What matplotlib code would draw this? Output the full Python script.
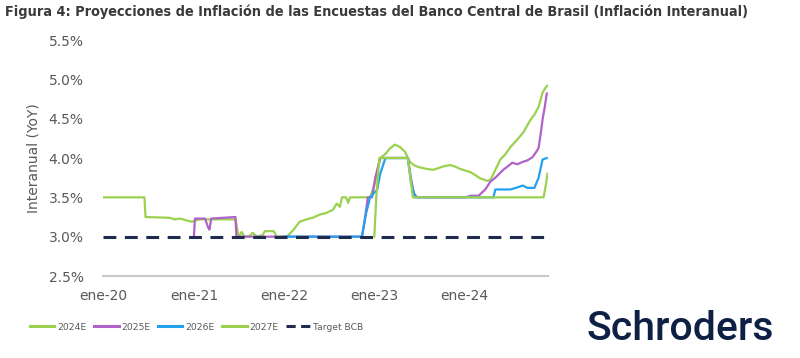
import matplotlib
matplotlib.use("Agg")
import matplotlib.pyplot as plt
import pandas as pd

# ---------------- data ----------------
title = "Figura 4: Proyecciones de Inflación de las Encuestas del Banco Central de Brasil (Inflación Interanual)"
y_label = "Interanual (YoY)"
y_ticks = [2.5, 3.0, 3.5, 4.0, 4.5, 5.0, 5.5]
x_tick_dates = ["2020-01-01", "2021-01-01", "2022-01-01", "2023-01-01", "2024-01-01"]
x_tick_labels = ["ene-20", "ene-21", "ene-22", "ene-23", "ene-24"]

dates_2024 = ["2020-01-01", "2020-06-15", "2020-06-19", "2020-09-25", "2020-10-15", "2020-11-05",
              "2020-11-29", "2020-12-23", "2021-01-25", "2021-04-15", "2021-06-18", "2021-07-01",
              "2021-07-13", "2021-07-25", "2021-08-15", "2021-08-27", "2021-09-12", "2021-10-06",
              "2021-10-15", "2021-11-20", "2021-12-02", "2022-01-12", "2022-02-06", "2022-03-05",
              "2022-04-02", "2022-04-27", "2022-05-25", "2022-06-19", "2022-07-17", "2022-08-02",
              "2022-08-15", "2022-08-23", "2022-09-09", "2022-09-17", "2022-09-25", "2022-12-15",
              "2023-01-01", "2023-01-13", "2023-01-25", "2023-02-15", "2023-03-05", "2023-03-25",
              "2023-04-15", "2023-05-05", "2023-05-25", "2023-06-15", "2023-07-05", "2023-08-03",
              "2023-08-27", "2023-09-25", "2023-10-15", "2023-11-05", "2023-11-25", "2023-12-15",
              "2024-01-05", "2024-01-25", "2024-02-15", "2024-03-05", "2024-04-02", "2024-04-15",
              "2024-05-05", "2024-05-25", "2024-06-15", "2024-07-05", "2024-07-29", "2024-08-27",
              "2024-09-25", "2024-10-10", "2024-10-27", "2024-11-12", "2024-11-25", "2024-12-02"]
vals_2024 = [3.50, 3.50, 3.25, 3.24, 3.22, 3.23,
             3.21, 3.19, 3.22, 3.22, 3.22, 3.00,
             3.06, 3.00, 3.01, 3.05, 3.00, 3.02,
             3.07, 3.07, 3.00, 3.00, 3.08, 3.19,
             3.22, 3.24, 3.28, 3.30, 3.34, 3.42,
             3.38, 3.50, 3.50, 3.43, 3.50, 3.50,
             3.65, 3.82, 4.00, 4.05, 4.12, 4.17,
             4.14, 4.08, 3.95, 3.90, 3.88, 3.86,
             3.85, 3.88, 3.90, 3.91, 3.89, 3.86,
             3.84, 3.82, 3.78, 3.74, 3.71, 3.72,
             3.85, 3.98, 4.05, 4.14, 4.22, 4.33,
             4.49, 4.55, 4.65, 4.83, 4.90, 4.92]

dates_2025 = ["2021-01-01", "2021-01-05", "2021-02-15", "2021-02-27", "2021-03-05", "2021-03-12",
              "2021-06-18", "2021-06-22", "2022-11-12", "2022-11-25", "2022-12-06", "2022-12-23",
              "2023-01-05", "2023-01-25", "2023-05-17", "2023-05-29", "2023-06-10", "2023-06-23",
              "2024-01-05", "2024-01-25", "2024-02-27", "2024-03-25", "2024-04-15", "2024-05-05",
              "2024-06-06", "2024-06-27", "2024-07-12", "2024-08-02", "2024-08-23", "2024-09-12",
              "2024-10-02", "2024-10-18", "2024-10-27", "2024-11-04", "2024-11-12", "2024-11-21",
              "2024-11-29"]
vals_2025 = [3.00, 3.23, 3.23, 3.12, 3.09, 3.23,
             3.25, 3.00, 3.00, 3.25, 3.50, 3.50,
             3.75, 4.00, 4.00, 3.75, 3.55, 3.50,
             3.50, 3.52, 3.52, 3.60, 3.70, 3.75,
             3.85, 3.90, 3.94, 3.92, 3.95, 3.97,
             4.01, 4.08, 4.13, 4.30, 4.49, 4.65,
             4.82]

dates_2026 = ["2022-01-01", "2022-11-12", "2022-11-29", "2022-12-15", "2023-01-13", "2023-01-25",
              "2023-02-15", "2023-05-17", "2023-05-29", "2023-06-15", "2024-04-27", "2024-05-05",
              "2024-07-05", "2024-08-06", "2024-08-23", "2024-09-12", "2024-10-10", "2024-10-27",
              "2024-11-12", "2024-11-29"]
vals_2026 = [3.00, 3.00, 3.30, 3.50, 3.60, 3.80,
             4.00, 4.00, 3.70, 3.50, 3.50, 3.60,
             3.60, 3.63, 3.65, 3.62, 3.62, 3.75,
             3.98, 4.00]

dates_2027 = ["2023-01-01", "2023-01-09", "2023-01-21", "2023-05-17", "2023-05-29", "2023-06-06",
              "2024-11-16", "2024-11-25", "2024-12-02"]
vals_2027 = [3.00, 3.50, 4.00, 4.00, 3.70, 3.50,
             3.50, 3.65, 3.80]

dates_target = ["2020-01-01", "2024-12-02"]
vals_target = [3.0, 3.0]

series_names = ["2024E", "2025E", "2026E", "2027E", "Target BCB"]

# ---------------- styling ----------------
GREEN = "#9bd14f"
PURPLE = "#b062c8"
BLUE = "#22a2ee"
NAVY = "#1f2b4d"
TXT = "#595959"

fig = plt.figure(figsize=(8.0, 3.58), dpi=100)
ax = fig.add_axes([103 / 800, 82 / 358, (548 - 103) / 800, (276 - 40) / 358])

lw = 1.6
ax.plot(pd.to_datetime(dates_2024), vals_2024, color=GREEN, lw=lw, label=series_names[0], zorder=3)
ax.plot(pd.to_datetime(dates_2025), vals_2025, color=PURPLE, lw=lw, label=series_names[1], zorder=3)
ax.plot(pd.to_datetime(dates_2026), vals_2026, color=BLUE, lw=lw, label=series_names[2], zorder=3)
ax.plot(pd.to_datetime(dates_2027), vals_2027, color=GREEN, lw=lw, label=series_names[3], zorder=4)
ax.plot(pd.to_datetime(dates_target), vals_target, color=NAVY, lw=2.2, ls=(0, (4.2, 2.8)),
        label=series_names[4], zorder=5)

ax.set_ylim(2.5, 5.5)
ax.set_yticks(y_ticks)
ax.set_yticklabels([f"{v:.1f}%" for v in y_ticks])
ax.set_xlim(pd.Timestamp("2019-12-30"), pd.Timestamp("2024-12-04"))
ax.set_xticks(pd.to_datetime(x_tick_dates))
ax.set_xticklabels(x_tick_labels)

for s in ["top", "right", "left"]:
    ax.spines[s].set_visible(False)
ax.spines["bottom"].set_color("#c8c8c8")
ax.spines["bottom"].set_linewidth(1.5)
ax.tick_params(axis="both", length=0, labelsize=10, labelcolor=TXT)
ax.tick_params(axis="y", pad=14)
ax.tick_params(axis="x", pad=9)
ax.set_ylabel(y_label, fontsize=10, color=TXT, labelpad=6)

# title: bold, fitted to the reference width (~752 px)
t = fig.text(5 / 800, 1 - 12 / 358, title, fontsize=10.5, fontweight="bold", color="#3a3a3a",
             family="DejaVu Sans", fontstretch="condensed", va="center", ha="left")
renderer = fig.canvas.get_renderer()
w = t.get_window_extent(renderer).width
target_w = 752
if w > target_w:
    t.set_fontsize(10.5 * target_w / w)

leg = fig.legend(loc="center left", bbox_to_anchor=(26 / 800, 1 - 327 / 358), ncol=5, frameon=False,
                 fontsize=6.6, handlelength=2.7, handletextpad=0.3, columnspacing=0.8,
                 labelcolor=TXT, borderaxespad=0)
for h in leg.legend_handles:
    h.set_linewidth(2.2)
leg.legend_handles[4].set_dashes([3, 1.8])

fig.text(680 / 800, 1 - 329 / 358, "Schroders", fontsize=29.5, fontweight="medium", color="#0e2145",
         family=["Roboto", "DejaVu Sans"], va="center", ha="center")

fig.savefig("out.png", dpi=100, facecolor="white")
